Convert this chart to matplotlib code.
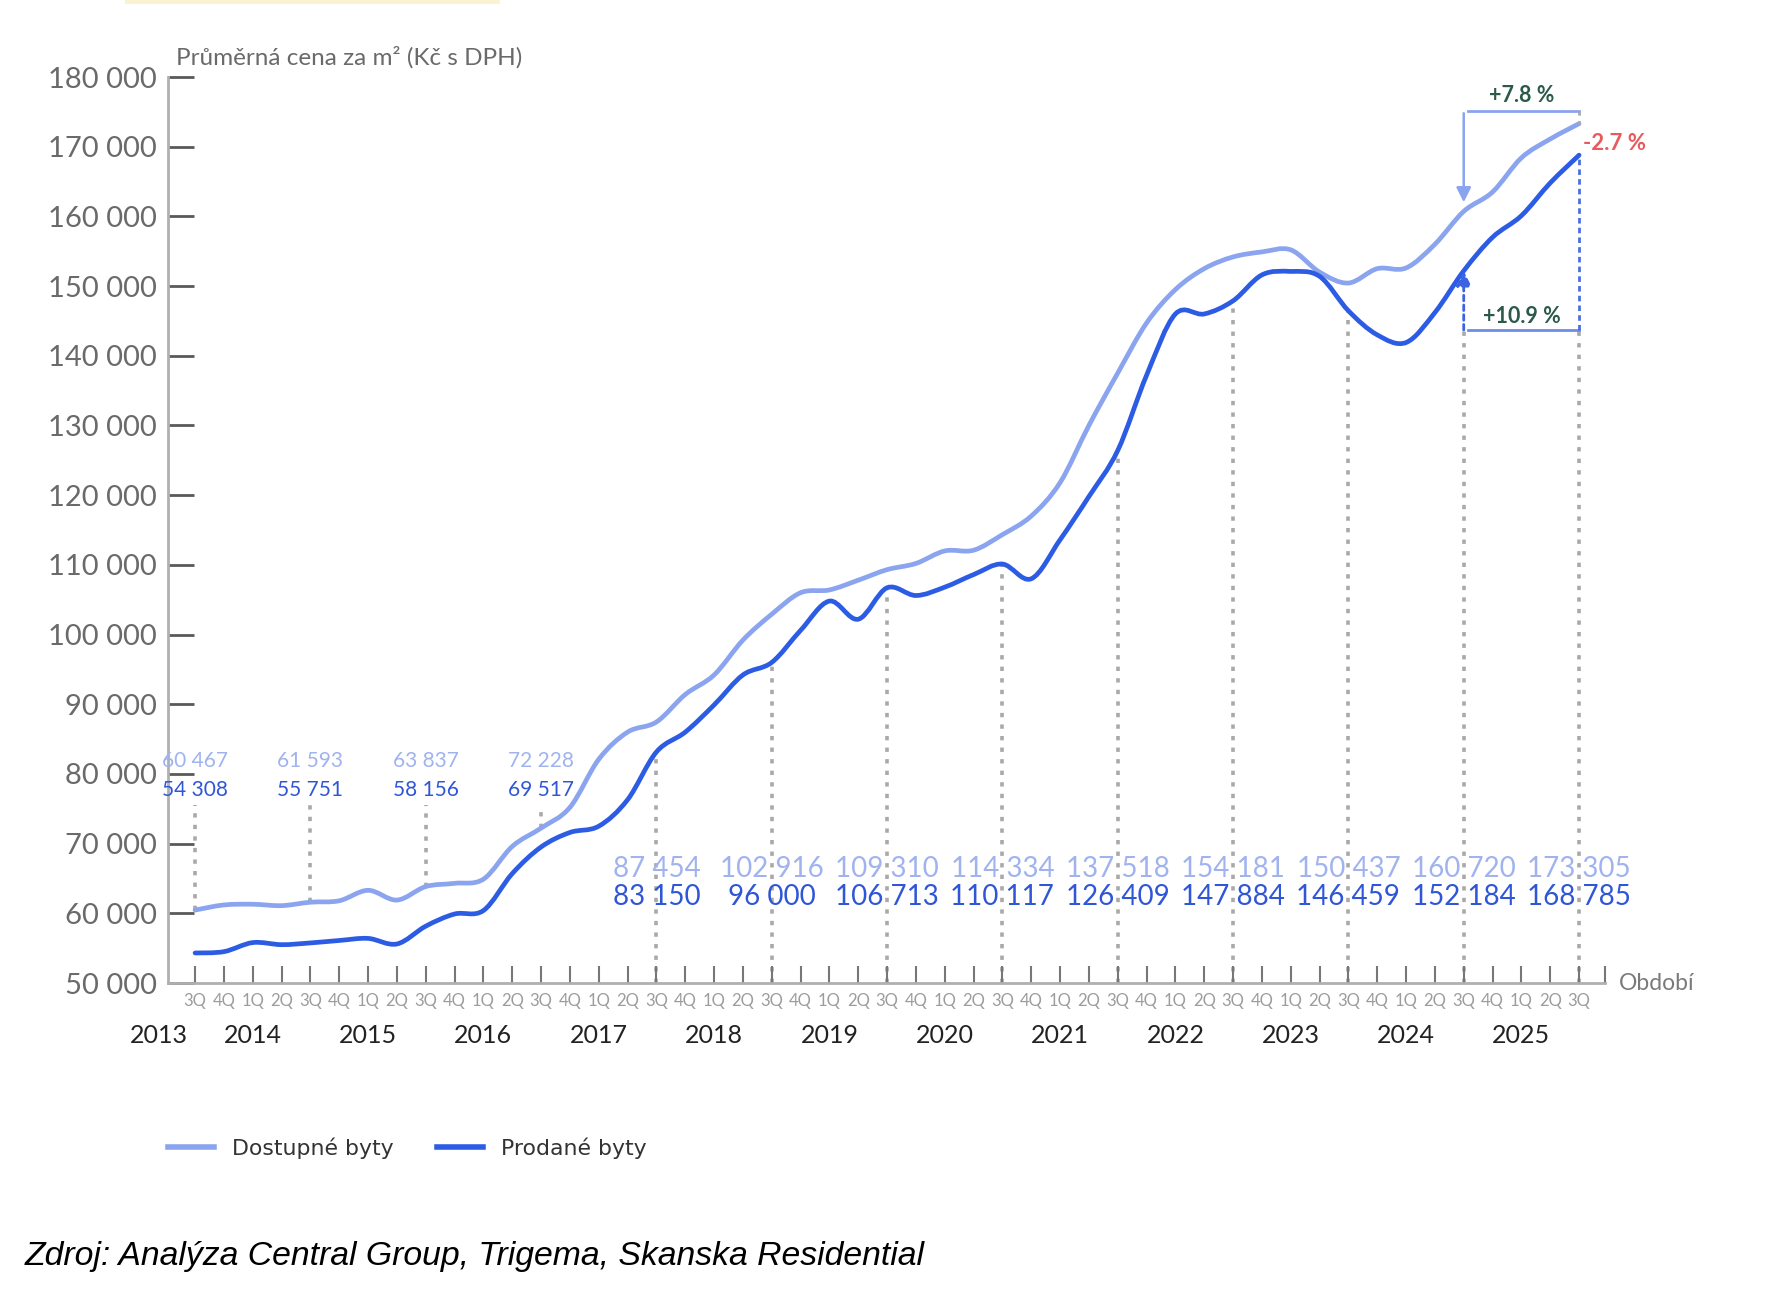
import numpy as np
import matplotlib
matplotlib.use("Agg")
import matplotlib.pyplot as plt
from matplotlib.path import Path
from matplotlib.patches import PathPatch, Rectangle
from matplotlib.lines import Line2D

# ---------------- data ----------------
quarter_cycle = ["3Q", "4Q", "1Q", "2Q"]
quarter_labels = [quarter_cycle[i % 4] for i in range(49)]  # 3Q 2013 .. 3Q 2025
years = [2013, 2014, 2015, 2016, 2017, 2018, 2019, 2020, 2021, 2022, 2023, 2024, 2025]

available = [60467, 61200, 61300, 61100, 61593, 61800, 63300, 61900,
             63837, 64300, 64900, 69600, 72228, 75200, 82100, 86000,
             87454, 91400, 94200, 99200, 102916, 106000, 106400, 107800,
             109310, 110200, 112000, 112100, 114334, 117000, 121800, 130000,
             137518, 144700, 149500, 152500, 154181, 154900, 155200, 152000,
             150437, 152500, 152600, 156000, 160720, 163500, 168400, 171100,
             173305]
sold = [54308, 54500, 55800, 55500, 55751, 56100, 56400, 55600,
        58156, 59900, 60400, 65700, 69517, 71600, 72500, 76300,
        83150, 86000, 89900, 94200, 96000, 100600, 104800, 102200,
        106713, 105600, 106800, 108600, 110117, 108000, 113600, 119800,
        126409, 137200, 146000, 146000, 147884, 151600, 152100, 151400,
        146459, 143000, 141900, 146200, 152184, 157000, 160100, 164800,
        168785]
labeled_idx = list(range(0, 49, 4))
series_names = ["Dostupné byty", "Prodané byty"]
pct_available = "+7.8 %"
pct_sold = "+10.9 %"
pct_gap = "-2.7 %"

# ---------------- style ----------------
light_line = "#8ba4ef"
dark_line = "#2d5ce4"
light_text = "#a0b3ef"
dark_text = "#2f56d6"
grey_dot = "#a9a9a9"

plt.rcParams["font.family"] = ["Lato", "DejaVu Sans"]

W, H = 1777, 1294
fig = plt.figure(figsize=(W / 100, H / 100), dpi=100)
fig.patch.set_facecolor("white")
ax_l, ax_r, ax_t, ax_b = 168, 1605, 77, 983
ax = fig.add_axes([ax_l / W, 1 - ax_b / H, (ax_r - ax_l) / W, (ax_b - ax_t) / H])

x = np.arange(len(available))


def smooth_path(xs, ys):
    xs = np.asarray(xs, float)
    ys = np.asarray(ys, float)
    n = len(xs)
    verts = [(xs[0], ys[0])]
    codes = [Path.MOVETO]
    for i in range(n - 1):
        a = i - 1 if i > 0 else i
        d = i + 2 if i + 2 < n else i + 1
        c1 = (xs[i] + (xs[i + 1] - xs[a]) / 6, ys[i] + (ys[i + 1] - ys[a]) / 6)
        c2 = (xs[i + 1] - (xs[d] - xs[i]) / 6, ys[i + 1] - (ys[d] - ys[i]) / 6)
        verts += [c1, c2, (xs[i + 1], ys[i + 1])]
        codes += [Path.CURVE4] * 3
    return Path(verts, codes)


def fmt(v):
    return f"{v:,}".replace(",", " ")


bracket_hi = 175100
bracket_lo = 143700

# dotted guide lines
for i in labeled_idx:
    if i < 16:
        ax.vlines(i, available[i], 75600, colors=grey_dot, lw=2.6,
                  linestyles=[(0, (1.2, 2.0))], zorder=1)
    else:
        top = sold[i] if i < 44 else bracket_lo
        ax.vlines(i, 50000, top, colors=grey_dot, lw=2.6,
                  linestyles=[(0, (1.2, 2.0))], zorder=1)

# series
ax.add_patch(PathPatch(smooth_path(x, available), fill=False, ec=light_line,
                       lw=3.4, capstyle="round", joinstyle="round", zorder=3))
ax.add_patch(PathPatch(smooth_path(x, sold), fill=False, ec=dark_line,
                       lw=3.4, capstyle="round", joinstyle="round", zorder=4))

# data labels
for i in labeled_idx:
    if i < 16:
        ax.text(i, 81800, fmt(available[i]), ha="center", va="center",
                color=light_text, fontsize=15, zorder=5)
        ax.text(i, 77700, fmt(sold[i]), ha="center", va="center",
                color=dark_text, fontsize=15, zorder=5)
    else:
        ax.text(i, 66300, fmt(available[i]), ha="center", va="center",
                color=light_text, fontsize=20, zorder=5)
        ax.text(i, 62400, fmt(sold[i]), ha="center", va="center",
                color=dark_text, fontsize=20, zorder=5)

# annotations on the right
i0, i1 = 44, 48
ax.plot([i0 + 0.15, i1], [bracket_hi, bracket_hi], color=light_line, lw=2, zorder=5)
ax.vlines(i1, available[i1], bracket_hi, colors=grey_dot, lw=2,
          linestyles=[(0, (1.2, 2.0))], zorder=5)
ax.annotate("", xy=(i0, available[i0] + 1300), xytext=(i0, bracket_hi - 300),
            arrowprops=dict(arrowstyle="-|>", color=light_line, lw=1.8,
                            mutation_scale=22, shrinkA=0, shrinkB=0), zorder=6)
ax.text((i0 + i1) / 2, bracket_hi + 2300, pct_available, ha="center", va="center",
        color="#2b5a4a", fontsize=15.5, fontweight="bold", zorder=6)

ax.plot([i0 + 0.15, i1], [bracket_lo, bracket_lo], color="#6d8ce8", lw=2, zorder=5)
ax.vlines(i1, bracket_lo, sold[i1], colors="#4a6fe0", lw=2,
          linestyles=[(0, (2.0, 1.5))], zorder=5)
ax.annotate("", xy=(i0, sold[i0]), xytext=(i0, bracket_lo),
            arrowprops=dict(arrowstyle="-|>", color="#3c63e2", lw=2,
                            linestyle=(0, (2.0, 1.5)),
                            mutation_scale=22, shrinkA=0, shrinkB=0), zorder=6)
ax.text((i0 + i1) / 2, bracket_lo + 2000, pct_sold, ha="center", va="center",
        color="#2b5a4a", fontsize=15.5, fontweight="bold", zorder=6)
ax.text(i1 + 0.15, 170400, pct_gap, ha="left", va="center",
        color="#e85a5c", fontsize=16, fontweight="bold", zorder=6)

# axes styling
ax.set_xlim(-0.94, 48.9)
ax.set_ylim(50000, 180000)
yt = np.arange(50000, 180001, 10000)
ax.set_yticks(yt, [fmt(v) for v in yt])
ax.set_xticks(x, quarter_labels)
ax.set_xticks([48.9], minor=True)
for s in ["top", "right"]:
    ax.spines[s].set_visible(False)
for s in ["left", "bottom"]:
    ax.spines[s].set_color("#b0b0b0")
    ax.spines[s].set_linewidth(2)
ax.tick_params(axis="y", direction="in", length=19, width=2, color="#5a5a5a",
               pad=8, labelsize=21, labelcolor="#6a6a6a")
ax.tick_params(axis="x", which="both", direction="in", length=12, width=1.5,
               color="#777777", pad=7, labelsize=12, labelcolor="#9c9c9c")
ax.tick_params(axis="x", which="minor", labelbottom=False)

xtrans = ax.get_xaxis_transform()
for yr in years:
    pos = max(4 * (yr - 2014) + 2, -1.25)
    ax.text(pos, -0.0574, str(yr), transform=xtrans, ha="center", va="center",
            fontsize=18, color="#222222")

ax.annotate("Období", xy=(1, 0), xycoords="axes fraction", xytext=(10, 0),
            textcoords="offset points", ha="left", va="center",
            fontsize=16.5, color="#7a7a7a")
ax.annotate("Průměrná cena za m² (Kč s DPH)", xy=(0, 1), xycoords="axes fraction",
            xytext=(6, 14), textcoords="offset points", ha="left", va="center",
            fontsize=17.5, color="#6a6a6a")

handles = [Line2D([], [], color=light_line, lw=4),
           Line2D([], [], color=dark_line, lw=4)]
fig.legend(handles, series_names, loc="center left",
           bbox_to_anchor=(ax_l / W, 1 - 1148 / H), ncol=2, frameon=False,
           prop={"family": "DejaVu Sans", "size": 15.8}, labelcolor="#333333",
           handlelength=2.1, handletextpad=0.8, columnspacing=2.0,
           borderpad=0, borderaxespad=0)

fig.text(25 / W, 1 - 1257 / H, "Zdroj: Analýza Central Group, Trigema, Skanska Residential",
         ha="left", va="center", fontsize=24.3, style="italic",
         family=["Liberation Sans", "DejaVu Sans"], color="black")

fig.add_artist(Rectangle((125 / W, 1 - 4 / H), 375 / W, 4 / H, transform=fig.transFigure,
                         color="#fbf3cf", lw=0))

fig.savefig("out.png", dpi=100)
